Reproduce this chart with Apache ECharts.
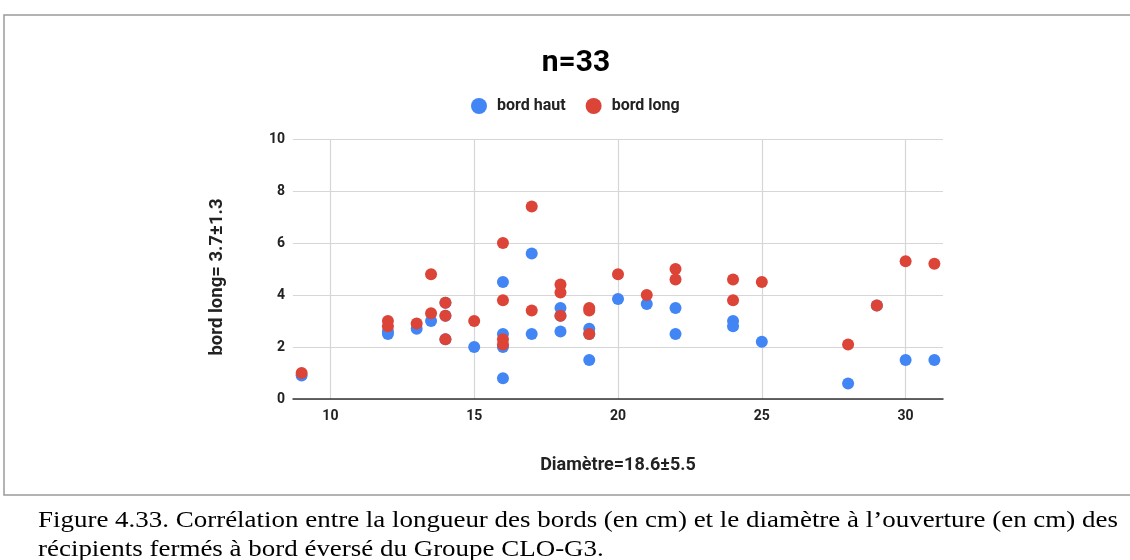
<!DOCTYPE html>
<html>
<head>
<meta charset="utf-8">
<script src="https://cdn.jsdelivr.net/npm/echarts@6/dist/echarts.min.js"></script>
<style>
html,body{margin:0;padding:0;background:#fff;}
#c{width:1130px;height:560px;}
</style>
</head>
<body>
<div id="c"></div>
<script>
// Data: diameter (cm) per vessel, and rim measurements
const diametreHaut = [9, 12, 12, 13, 13.5, 14, 14, 14, 15, 16, 16, 16, 16, 17, 17, 18, 18, 18, 19, 19, 19, 20, 21, 22, 22, 24, 24, 25, 28, 29, 30, 31];
const bordHaut     = [0.9, 2.5, 2.6, 2.7, 3.0, 2.3, 3.2, 3.7, 2.0, 4.5, 2.5, 2.0, 0.8, 5.6, 2.5, 3.5, 2.6, 3.2, 2.7, 1.5, 2.5, 3.85, 3.65, 3.5, 2.5, 3.0, 2.8, 2.2, 0.6, 3.6, 1.5, 1.5];
const diametreLong = [9, 12, 12, 13, 13.5, 13.5, 14, 14, 14, 15, 16, 16, 16, 16, 17, 17, 18, 18, 18, 19, 19, 19, 20, 21, 22, 22, 24, 24, 25, 28, 29, 30, 31];
const bordLong     = [1.0, 3.0, 2.8, 2.9, 4.8, 3.3, 3.7, 3.2, 2.3, 3.0, 6.0, 3.8, 2.3, 2.1, 7.4, 3.4, 4.4, 4.1, 3.2, 3.5, 3.4, 2.5, 4.8, 4.0, 5.0, 4.6, 4.6, 3.8, 4.5, 2.1, 3.6, 5.3, 5.2];
const xTicks = [10, 15, 20, 25, 30];
const seriesNames = ['bord haut', 'bord long'];
const titleText = 'n=33';
const xName = 'Diamètre=18.6±5.5';
const yName = 'bord long= 3.7±1.3';
const captionLines = [
  'Figure 4.33. Corrélation entre la longueur des bords (en cm) et le diamètre à l’ouverture (en cm) des',
  'récipients fermés à bord éversé du Groupe CLO-G3.'
];

const pairs = (xs, ys) => xs.map((x, i) => [x, ys[i]]);
const chart = echarts.init(document.getElementById('c'), null, {renderer: 'canvas'});
const boldFont = 'Roboto, "Noto Sans", Arial, sans-serif';
const captionFont = '24px "Liberation Serif", "Times New Roman", serif';

chart.setOption({
  animation: false,
  backgroundColor: '#fff',
  title: {
    text: titleText, left: 571, textAlign: 'center', top: 43,
    textStyle: {fontFamily: boldFont, fontSize: 30, fontWeight: 'bold', color: '#000'}
  },
  legend: {
    data: seriesNames, top: 93, left: 466, itemWidth: 16, itemHeight: 16, itemGap: 20,
    icon: 'circle',
    textStyle: {fontFamily: boldFont, fontSize: 16, fontWeight: 'bold', color: '#222', padding: [0, 0, 0, 5]}
  },
  grid: {left: 293, right: 187, top: 139, height: 260, containLabel: false},
  xAxis: {
    type: 'value', min: 8.7, max: 31.3,
    name: xName, nameLocation: 'middle', nameGap: 57,
    nameTextStyle: {fontFamily: boldFont, fontSize: 18, fontWeight: 'bold', color: '#222'},
    axisLine: {show: true, onZero: false, lineStyle: {color: '#333', width: 1.5}},
    axisTick: {show: false, customValues: xTicks},
    axisLabel: {customValues: xTicks, fontFamily: boldFont, fontSize: 14, fontWeight: 'bold', color: '#222', margin: 10},
    splitLine: {show: true, lineStyle: {color: '#d6d6d6', width: 1.2}}
  },
  yAxis: {
    type: 'value', min: 0, max: 10, interval: 2,
    name: yName, nameLocation: 'middle', nameGap: 66, nameRotate: 90,
    nameTextStyle: {fontFamily: boldFont, fontSize: 18.5, fontWeight: 'bold', color: '#222', padding: [0, 16, 0, 0]},
    axisLine: {show: false}, axisTick: {show: false},
    axisLabel: {fontFamily: boldFont, fontSize: 14, fontWeight: 'bold', color: '#222', margin: 8},
    splitLine: {show: true, lineStyle: {color: '#d6d6d6', width: 1.2}}
  },
  series: [
    {name: seriesNames[0], type: 'scatter', data: pairs(diametreHaut, bordHaut), symbolSize: 12,
     itemStyle: {color: '#4285F4', opacity: 1}},
    {name: seriesNames[1], type: 'scatter', data: pairs(diametreLong, bordLong), symbolSize: 12,
     itemStyle: {color: '#DB4437', opacity: 1}}
  ],
  graphic: [
    {type: 'rect', silent: true, shape: {x: 4, y: 15, width: 1140, height: 480},
     style: {fill: null, stroke: '#9a9a9a', lineWidth: 1.5}},
    {type: 'text', x: 38, y: 509, scaleX: 1.123, silent: true,
     style: {text: captionLines[0], font: captionFont, fill: '#000'}},
    {type: 'text', x: 38, y: 538, scaleX: 1.123, silent: true,
     style: {text: captionLines[1], font: captionFont, fill: '#000'}}
  ]
});
</script>
</body>
</html>
